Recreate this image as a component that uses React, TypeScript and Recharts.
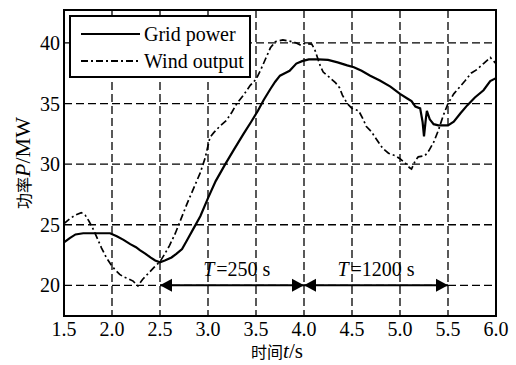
import React from "react";
import {
  LineChart,
  Line,
  XAxis,
  YAxis,
  CartesianGrid,
  ReferenceLine,
  ReferenceDot,
  ReferenceArea,
  Legend,
  Label,
} from "recharts";

// grid power (solid)
const gridT = [
  1.5, 1.56, 1.62, 1.7, 1.8, 1.9, 1.98, 2.05, 2.12, 2.19, 2.25, 2.29, 2.35, 2.4, 2.45, 2.5,
  2.55, 2.62, 2.67, 2.73, 2.78, 2.85, 2.92, 3.0, 3.08, 3.18, 3.27, 3.37, 3.45, 3.52, 3.58,
  3.65, 3.7, 3.75, 3.8, 3.85, 3.92, 3.98, 4.05, 4.15, 4.25, 4.35, 4.45, 4.52, 4.6, 4.69,
  4.79, 4.9, 5.0, 5.08, 5.12, 5.16, 5.21, 5.235, 5.25, 5.27, 5.28, 5.31, 5.35, 5.4, 5.5,
  5.56, 5.63, 5.7, 5.78, 5.87, 5.94, 6.0,
];
const gridP = [
  23.55, 23.9, 24.2, 24.3, 24.3, 24.3, 24.3, 24.05, 23.75, 23.4, 23.15, 22.9, 22.6, 22.3,
  22.05, 21.9, 22.05, 22.3, 22.6, 23.0, 23.7, 24.7, 25.7, 27.2, 28.6, 30.0, 31.2, 32.5,
  33.5, 34.4, 35.3, 36.2, 36.8, 37.3, 37.5, 37.7, 38.3, 38.5, 38.65, 38.65, 38.6, 38.4,
  38.15, 38.0, 37.7, 37.3, 36.9, 36.4, 35.8, 35.4, 35.2, 34.75, 34.6, 33.5, 32.3, 33.8,
  34.4, 33.7, 33.3, 33.2, 33.2, 33.5, 34.2, 34.85, 35.5, 36.1, 36.85, 37.1,
];

// wind output (dash-dot)
const windT = [
  1.5, 1.56, 1.62, 1.68, 1.72, 1.76, 1.8, 1.84, 1.89, 1.94, 1.99, 2.03, 2.08, 2.12, 2.17,
  2.22, 2.25, 2.27, 2.32, 2.38, 2.44, 2.5, 2.55, 2.6, 2.66, 2.72, 2.78, 2.85, 2.92, 2.97,
  3.02, 3.06, 3.12, 3.19, 3.25, 3.3, 3.37, 3.44, 3.5, 3.55, 3.6, 3.65, 3.7, 3.78, 3.85,
  3.92, 3.97, 4.0, 4.08, 4.11, 4.14, 4.17, 4.2, 4.26, 4.33, 4.37, 4.4, 4.45, 4.5, 4.57,
  4.61, 4.65, 4.7, 4.76, 4.82, 4.88, 4.95, 5.0, 5.06, 5.1, 5.12, 5.16, 5.19, 5.26, 5.3,
  5.35, 5.4, 5.45, 5.5, 5.56, 5.62, 5.68, 5.74, 5.8, 5.87, 5.94, 6.0,
];
const windP = [
  25.1, 25.5, 25.8, 26.0, 25.8, 25.3, 24.7, 24.0, 23.1, 22.3, 21.7, 21.3, 20.9, 20.7, 20.55,
  20.35, 20.1, 19.95, 20.5, 21.0, 21.5, 21.95, 22.6, 23.3, 24.3, 25.5, 26.7, 28.0, 29.3,
  30.5, 32.2, 32.6, 33.1, 33.6, 34.3, 35.0, 35.7, 36.5, 37.0, 37.8, 38.7, 39.6, 40.1, 40.25,
  40.15, 40.0, 39.8, 39.95, 39.9, 39.5, 38.8, 38.1, 37.6, 37.2, 36.7, 36.3, 35.7, 35.0, 34.6,
  34.4, 33.8, 33.1, 32.7, 32.0, 31.3, 30.9, 30.7, 30.45, 30.05, 29.7, 29.6, 30.3, 30.6, 30.7,
  31.1, 31.8, 32.8, 34.0, 35.0, 35.8, 36.35, 36.9, 37.5, 37.8, 38.3, 38.8, 38.3,
];

const xTicks = [1.5, 2.0, 2.5, 3.0, 3.5, 4.0, 4.5, 5.0, 5.5, 6.0];
const yTicks = [20, 25, 30, 35, 40];
const yDomain = [17.47, 42.72];

// time-span annotation at P = 20
const spanY = 20;
const spanStart = 2.5;
const spanEnd = 5.5;
const arrowHeads = [
  { x: 2.5, dir: -1 },
  { x: 4.0, dir: 1 },
  { x: 4.0, dir: -1 },
  { x: 5.5, dir: 1 },
];
const spanLabels = [
  { x: 3.3, text: "=250 s" },
  { x: 4.75, text: "=1200 s" },
];

const gridData = gridT.map((t, i) => ({ t, p: gridP[i] }));
const windData = windT.map((t, i) => ({ t, p: windP[i] }));

const SERIF = "Liberation Serif, DejaVu Serif, serif";
const CJK = "Noto Sans CJK SC, sans-serif";
const DASH_DOT = "7 3 2 3";

const serif = (size: number) => ({ fontFamily: SERIF, fontSize: size });

const XTick = ({ x, y, payload }: any) => (
  <text x={x} y={y + 20} textAnchor="middle" style={serif(20)} fill="#000">
    {payload.value.toFixed(1)}
  </text>
);

const YTick = ({ x, y, payload }: any) => (
  <text x={x - 4} y={y} dy="0.35em" textAnchor="end" style={serif(20)} fill="#000">
    {payload.value}
  </text>
);

const XTitle = ({ viewBox }: any) => (
  <text
    x={viewBox.x + viewBox.width / 2 - 3}
    y={viewBox.y + 42}
    textAnchor="middle"
    style={serif(21)}
    fill="#000"
  >
    <tspan style={{ fontFamily: CJK, fontSize: 16 }}>时间</tspan>
    <tspan style={{ fontStyle: "italic" }}>t</tspan>
    <tspan>/s</tspan>
  </text>
);

const YTitle = ({ viewBox }: any) => {
  const cx = 30;
  const cy = viewBox.y + viewBox.height / 2;
  return (
    <text
      x={cx}
      y={cy}
      transform={`rotate(-90, ${cx}, ${cy})`}
      textAnchor="middle"
      style={serif(22)}
      fill="#000"
    >
      <tspan style={{ fontFamily: CJK, fontSize: 16 }}>功率</tspan>
      <tspan style={{ fontStyle: "italic" }}>P</tspan>
      <tspan>/MW</tspan>
    </text>
  );
};

const LegendBox = () => (
  <svg width={182} height={63} style={{ display: "block" }}>
    <rect x={1} y={1} width={180} height={61} fill="#fff" stroke="#000" strokeWidth={2} />
    <line x1={12} y1={19} x2={71} y2={19} stroke="#000" strokeWidth={2} />
    <line x1={12} y1={46} x2={71} y2={46} stroke="#000" strokeWidth={1.8} strokeDasharray={DASH_DOT} />
    <text x={75} y={25.5} style={serif(20)} fill="#000">Grid power</text>
    <text x={75} y={53} style={serif(20)} fill="#000">Wind output</text>
  </svg>
);

const Arrow = ({ cx, cy, dir }: any) => (
  <polygon
    points={`${cx},${cy} ${cx - dir * 12},${cy - 6.5} ${cx - dir * 12},${cy + 6.5}`}
    fill="#000"
  />
);

const SpanText = ({ cx, cy, text }: any) => (
  <text x={cx} y={cy - 9} textAnchor="middle" style={serif(20)} fill="#000">
    <tspan style={{ fontStyle: "italic" }}>T</tspan>
    <tspan dx={2}>{text}</tspan>
  </text>
);

export default function App() {
  return (
    <div
      style={{
        position: "absolute",
        left: 0,
        top: 0,
        width: 516,
        height: 365,
        background: "#fff",
        fontFamily: SERIF,
      }}
    >
      <LineChart width={516} height={365} margin={{ top: 10, right: 20, bottom: 0, left: 0 }}>
        <CartesianGrid stroke="#000" strokeWidth={1.3} strokeDasharray="8 4" />
        <XAxis
          type="number"
          dataKey="t"
          domain={[1.5, 6.0]}
          ticks={xTicks}
          height={49}
          tickSize={0}
          tickMargin={0}
          tickLine={false}
          axisLine={false}
          tick={<XTick />}
          allowDataOverflow
        >
          <Label content={<XTitle />} />
        </XAxis>
        <YAxis
          type="number"
          domain={yDomain}
          ticks={yTicks}
          width={64}
          tickSize={0}
          tickMargin={0}
          tickLine={false}
          axisLine={false}
          tick={<YTick />}
          allowDataOverflow
        >
          <Label content={<YTitle />} />
        </YAxis>
        <Legend
          layout="vertical"
          align="center"
          verticalAlign="middle"
          content={<LegendBox />}
          wrapperStyle={{ left: 69, top: 15, width: 182, height: 63 }}
        />
        <ReferenceLine
          segment={[
            { x: spanStart, y: spanY },
            { x: spanEnd, y: spanY },
          ]}
          stroke="#000"
          strokeWidth={2}
        />
        {arrowHeads.map((a, i) => (
          <ReferenceDot key={`a${i}`} x={a.x} y={spanY} shape={(p: any) => <Arrow {...p} dir={a.dir} />} />
        ))}
        {spanLabels.map((s, i) => (
          <ReferenceDot key={`s${i}`} x={s.x} y={spanY} shape={(p: any) => <SpanText {...p} text={s.text} />} />
        ))}
        <Line
          data={gridData}
          dataKey="p"
          name="Grid power"
          type="linear"
          stroke="#000"
          strokeWidth={2.2}
          dot={false}
          isAnimationActive={false}
        />
        <Line
          data={windData}
          dataKey="p"
          name="Wind output"
          type="linear"
          stroke="#000"
          strokeWidth={1.7}
          strokeDasharray={DASH_DOT}
          dot={false}
          isAnimationActive={false}
        />
        <ReferenceArea
          x1={1.5}
          x2={6.0}
          y1={yDomain[0]}
          y2={yDomain[1]}
          fill="none"
          stroke="#000"
          strokeWidth={2}
        />
      </LineChart>
    </div>
  );
}
